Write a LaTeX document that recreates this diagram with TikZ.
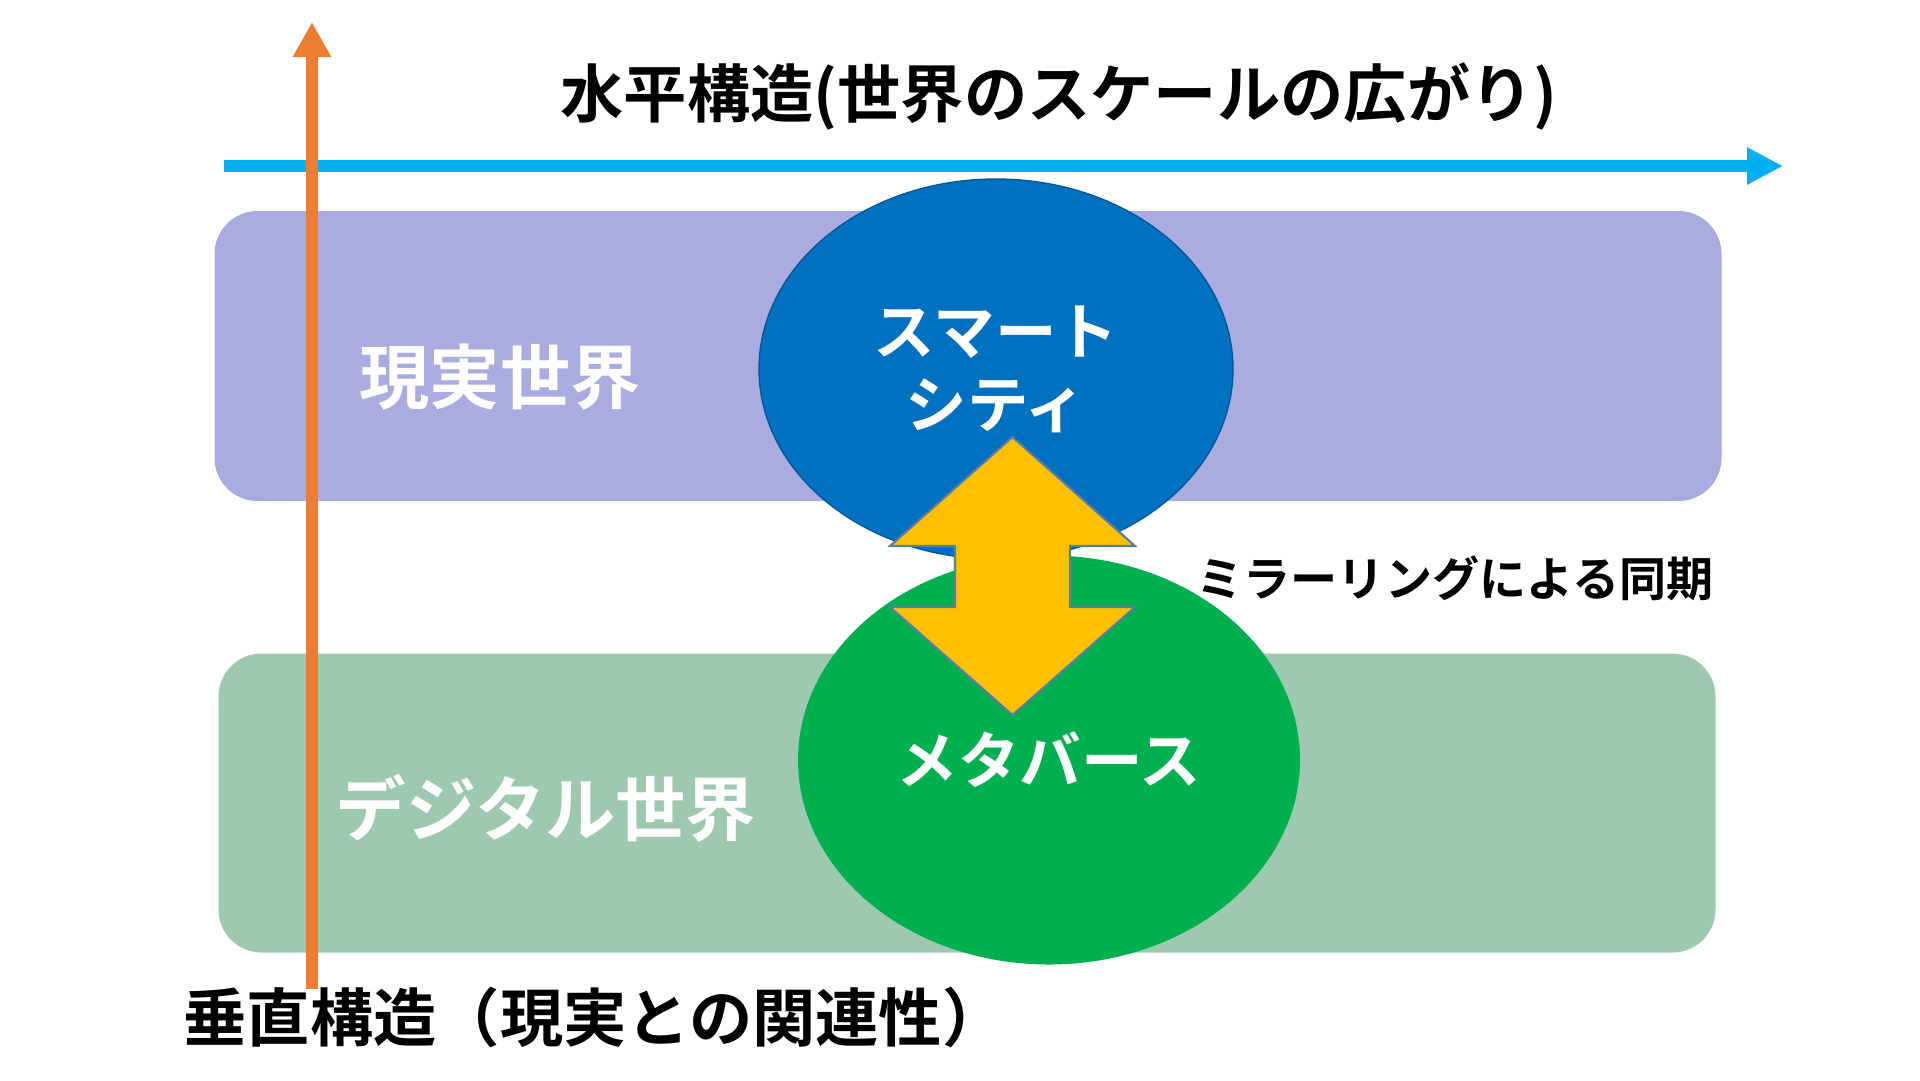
\documentclass[tikz,border=0pt]{standalone}
\usepackage{fontspec}
\setmainfont{Noto Sans CJK JP}[BoldFont={Noto Sans CJK JP Bold}]
\usetikzlibrary{shapes.geometric,arrows.meta,positioning}

\definecolor{realband}{HTML}{AAABE1}
\definecolor{digitalband}{HTML}{9DC9B0}
\definecolor{cityblue}{HTML}{0070C0}
\definecolor{metagreen}{HTML}{00B050}
\definecolor{syncyellow}{HTML}{FFC000}
\definecolor{syncedge}{HTML}{5A7DA3}
\definecolor{horizaxis}{HTML}{00B0F0}
\definecolor{vertaxis}{HTML}{ED7D31}

\begin{document}
\begin{tikzpicture}[x=0.1mm, y=-0.1mm,
    band/.style={rounded corners=4.3mm, inner sep=0pt},
    world/.style={ellipse, inner sep=0pt, text=white, align=center,
        font=\bfseries\fontsize{17.5}{20.8}\selectfont},
    bandlabel/.style={text=white, inner sep=0pt, font=\bfseries\fontsize{20}{24}\selectfont},
    axislabel/.style={inner sep=0pt, anchor=west, font=\bfseries\fontsize{18}{22}\selectfont}]
        \useasboundingbox (0,0) rectangle (1920,1080);

        % Bands
        \node[band, fill=realband, minimum width=150.7mm, minimum height=29mm] (real) at (968,356) {};
        \node[band, fill=digitalband, minimum width=149.7mm, minimum height=29.9mm] (digital) at (967,803) {};

        % Worlds
        \node[world, fill=cityblue, draw=cityblue!80!black, minimum width=47.4mm, minimum height=38mm] (city) at (996,369) {スマート\\シティ};
        \node[world, fill=metagreen, minimum width=50.2mm, minimum height=40.9mm] (meta) at (1049,760) {メタバース};

        % Mirroring arrow
        \coordinate (sync) at (1012.5,576);
        \draw[fill=syncyellow, draw=syncedge, line width=0.6pt] (sync) ++(0,-139) -- ++(122.5,109) -- ++(-65,0) -- ++(0,61) -- ++(65,0) -- ++(-122.5,108) -- ++(-122.5,-108) -- ++(65,0) -- ++(0,-61) -- ++(-65,0) -- cycle;
        \node[inner sep=0pt, anchor=west, font=\bfseries\fontsize{13.4}{16}\selectfont] (synclabel) at (1196,578) {ミラーリングによる同期};

        % Axes
        \coordinate (hstart) at (224,166);
        \coordinate (hend) at (1783,166);
        \coordinate (vstart) at (312,989);
        \coordinate (vend) at (312,22);
        \draw[horizaxis, line width=3.4pt, -{Triangle[width=3.5mm,length=3.6mm]}] (hstart) -- (hend);
        \draw[vertaxis, line width=3.4pt, -{Triangle[width=3.6mm,length=3.5mm]}] (vstart) -- (vend);

        % Labels
        \node[axislabel] (hlabel) at (560,96) {水平構造(世界のスケールの広がり)};
        \node[axislabel] (vlabel) at (183,1017) {垂直構造（現実との関連性）};
        \node[bandlabel] (reallabel) at (500,377) {現実世界};
        \node[bandlabel] (digitallabel) at (546,808) {デジタル世界};
    \end{tikzpicture}
\end{document}
